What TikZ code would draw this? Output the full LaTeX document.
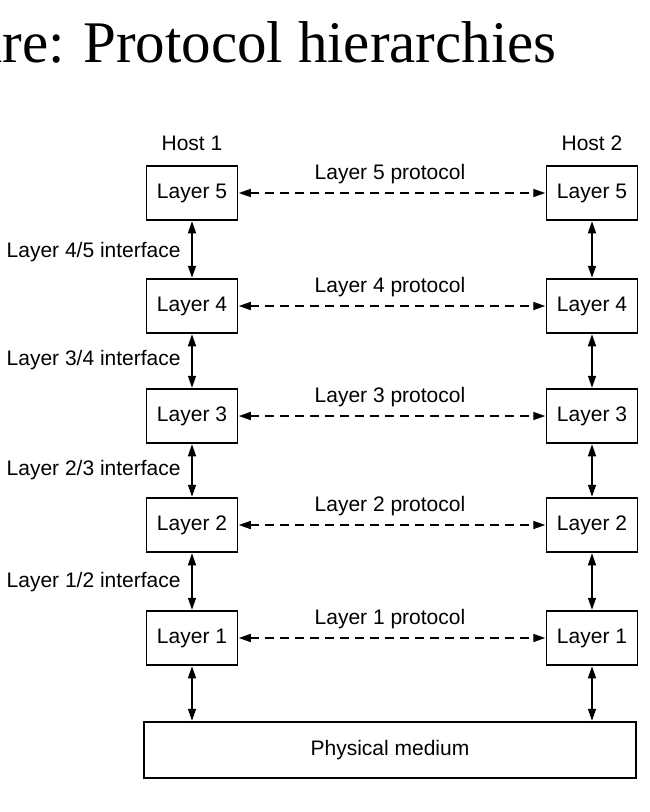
\documentclass[tikz,border=0pt]{standalone}
\usepackage{fontspec}
\setmainfont{Liberation Sans}
\newfontfamily\titlefont{Liberation Serif}
\usetikzlibrary{arrows.meta}
\begin{document}
\begin{tikzpicture}[x=1pt,y=-1pt,
  lay/.style={draw, line width=1.5pt, minimum width=91pt, minimum height=54pt, inner sep=0pt, font=\fontsize{21}{24}\selectfont},
  lbl/.style={inner sep=0pt, font=\fontsize{21}{24}\selectfont},
  ttl/.style={inner sep=0pt, font=\titlefont\fontsize{59}{70}\selectfont},
  iface/.style={{Triangle[length=12pt,width=8pt]}-{Triangle[length=12pt,width=8pt]}, line width=1.4pt, shorten <=0.5pt, shorten >=0.5pt},
  proto/.style={iface, dash pattern=on 9pt off 6pt}]
\useasboundingbox (0,0) rectangle (650,812);
\clip (0,0) rectangle (650,812);
\fill[white] (0,0) rectangle (650,812);
% title
\node[ttl, anchor=base east] (title) at (557,62) {Protocol hierarchies};
\node[ttl, anchor=base east] (title0) at (65,62) {are:};
% hosts
\node[lbl] (h1) at (192,143) {Host 1};
\node[lbl] (h2) at (592,143) {Host 2};
% layers
\foreach \n/\y in {5/193,4/306,3/416,2/525,1/638}{
  \node[lay] (a\n) at (192,\y) {Layer \n};
  \node[lay] (b\n) at (592,\y) {Layer \n};
  \draw[proto] (a\n.east) -- (b\n.west);
  \node[lbl] (p\n) at (390,\y-19) {Layer \n\ protocol};
}
% physical medium
\node[draw, line width=1.5pt, minimum width=492pt, minimum height=56pt, inner sep=0pt, font=\fontsize{21}{24}\selectfont] (pm) at (390,750) {Physical medium};
% interfaces
\draw[iface] (a5.south) -- (a4.north);
\draw[iface] (a4.south) -- (a3.north);
\draw[iface] (a3.south) -- (a2.north);
\draw[iface] (a2.south) -- (a1.north);
\draw[iface] (b5.south) -- (b4.north);
\draw[iface] (b4.south) -- (b3.north);
\draw[iface] (b3.south) -- (b2.north);
\draw[iface] (b2.south) -- (b1.north);
\draw[iface] (a1.south) -- (a1.south |- pm.north);
\draw[iface] (b1.south) -- (b1.south |- pm.north);
% interface labels
\node[lbl, anchor=west] (i45) at (6.5,252) {Layer 4/5 interface};
\node[lbl, anchor=west] (i34) at (6.5,360) {Layer 3/4 interface};
\node[lbl, anchor=west] (i23) at (6.5,470) {Layer 2/3 interface};
\node[lbl, anchor=west] (i12) at (6.5,582) {Layer 1/2 interface};
\end{tikzpicture}
\end{document}
